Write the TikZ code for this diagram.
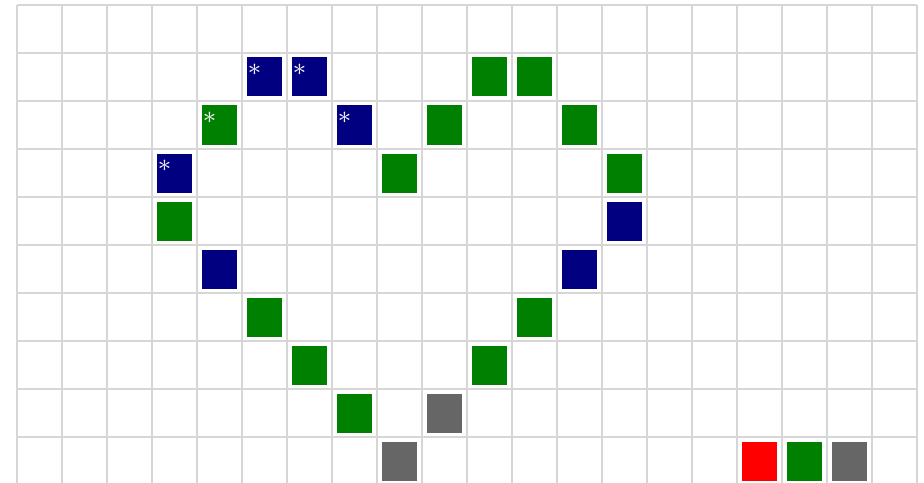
\documentclass[tikz,border=0pt]{standalone}
\usepackage{xcolor}
\usepackage{tikz}
\definecolor{cellnavy}{RGB}{0,0,128}
\definecolor{cellgreen}{RGB}{0,128,0}
\definecolor{cellgray}{RGB}{102,102,102}
\definecolor{cellred}{RGB}{255,0,0}
\definecolor{gridgray}{RGB}{214,214,214}
\tikzstyle{gridline} = [draw=gridgray, line width=0.6pt]
\tikzstyle{cell} = [rectangle, inner sep=0pt, minimum width=0.35cm, minimum height=0.39cm]
\tikzstyle{navycell} = [cell, fill=cellnavy]
\tikzstyle{greencell} = [cell, fill=cellgreen]
\tikzstyle{graycell} = [cell, fill=cellgray]
\tikzstyle{redcell} = [cell, fill=cellred]
\tikzstyle{starred} = [label={[text=white!90!gray, font=\scriptsize, inner sep=0pt, xshift=-0.1cm, yshift=0.07cm]center:$\ast$}]

\begin{document}
\begin{tikzpicture}[x=0.45cm, y=-0.48cm]
    \useasboundingbox (-0.17cm,0.05cm) rectangle (9.07cm,-4.77cm);
    \fill[white] (-0.17cm,0.05cm) rectangle (9.07cm,-4.77cm);

    % grid
    \foreach \i in {0,...,20}
        \draw[gridline] (\i,0) -- (\i,10);
    \foreach \j in {0,...,10}
        \draw[gridline] (0,\j) -- (20,\j);

    % marked cells
    \foreach \c/\r in {5/1, 6/1, 7/2, 3/3}
        \node (m\c-\r) [navycell, starred] at (\c+0.5,\r+0.5) {};
    \node (m4-2) [greencell, starred] at (4.5,2.5) {};

    % navy cells
    \foreach \c/\r in {13/4, 4/5, 12/5}
        \node (n\c-\r) [navycell] at (\c+0.5,\r+0.5) {};

    % green cells
    \foreach \c/\r in {10/1, 11/1, 9/2, 12/2, 8/3, 13/3, 3/4, 5/6, 11/6, 6/7, 10/7, 7/8, 17/9}
        \node (g\c-\r) [greencell] at (\c+0.5,\r+0.5) {};

    % gray cells
    \foreach \c/\r in {9/8, 8/9, 18/9}
        \node (k\c-\r) [graycell] at (\c+0.5,\r+0.5) {};

    \node (r16-9) [redcell] at (16.5,9.5) {};
\end{tikzpicture}
\end{document}
